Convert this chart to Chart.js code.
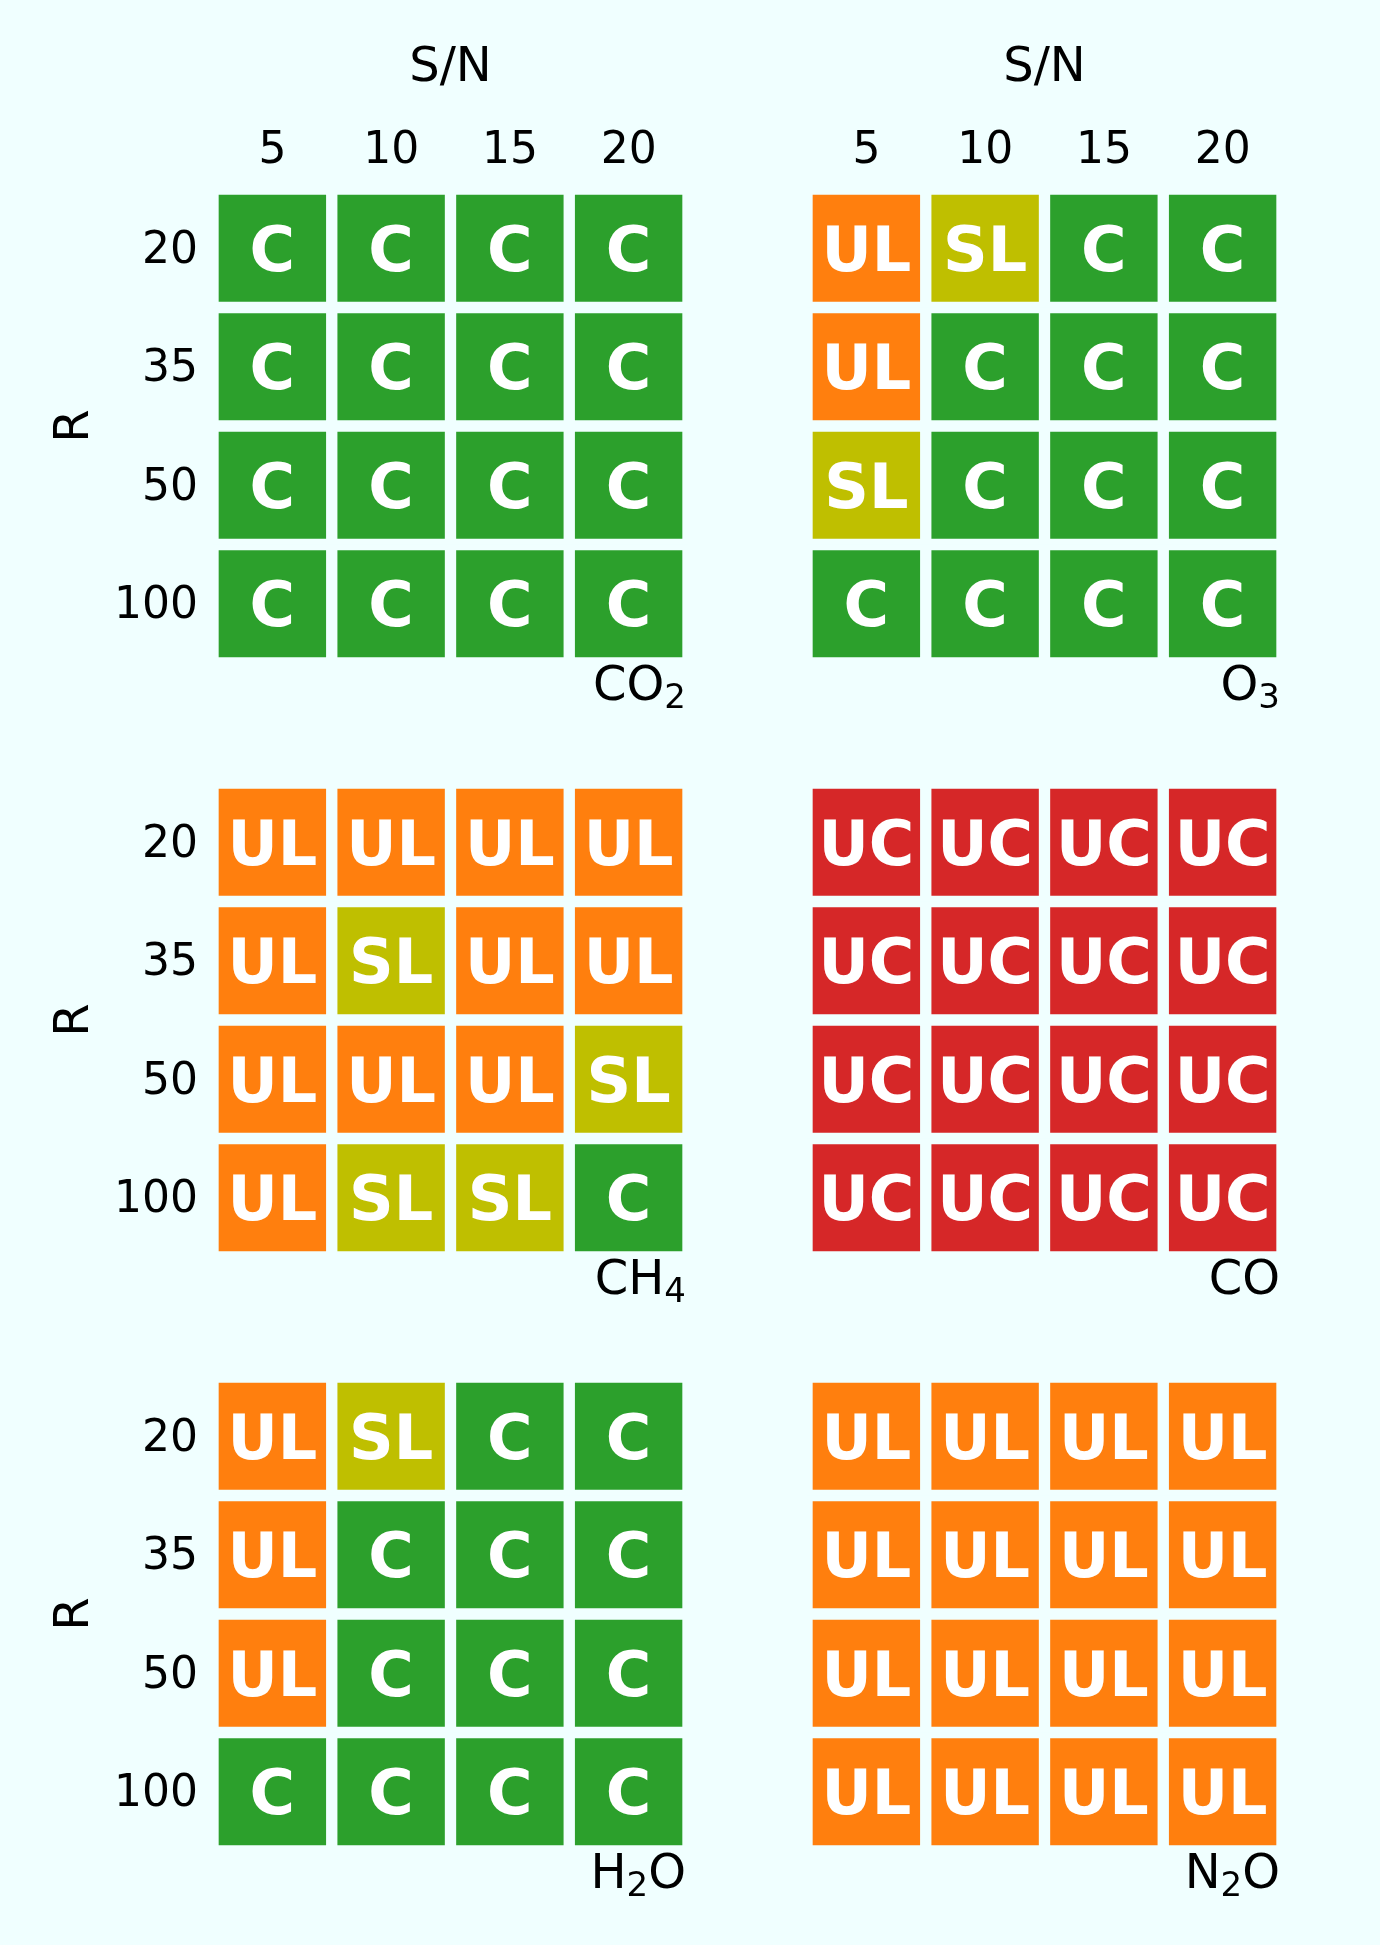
<!DOCTYPE html>
<html>
<head>
<meta charset="utf-8">
<script src="https://cdn.jsdelivr.net/npm/chart.js@4.4.1/dist/chart.umd.min.js"></script>
<style>
  html, body { margin: 0; padding: 0; background: #f0ffff; }
  #fig { position: relative; width: 1380px; height: 1945px; background: #f0ffff; overflow: hidden; }
  #fig canvas { position: absolute; }
</style>
</head>
<body>
<div id="fig"></div>
<script>
// axes
const snLabels = ['5', '10', '15', '20'];
const rLabels = ['20', '35', '50', '100'];
const rowSpan = [1, 1, 1, 1];   // every cell is one unit tall

// panel names, left to right, top to bottom
const gasNames = ['CO₂', 'O₃', 'CH₄', 'CO', 'H₂O', 'N₂O'];

// status per panel: rows are R = 20, 35, 50, 100; columns are S/N = 5, 10, 15, 20
const co2Status = [
    ['C', 'C', 'C', 'C'],
    ['C', 'C', 'C', 'C'],
    ['C', 'C', 'C', 'C'],
    ['C', 'C', 'C', 'C']
];
const o3Status = [
    ['UL', 'SL', 'C', 'C'],
    ['UL', 'C', 'C', 'C'],
    ['SL', 'C', 'C', 'C'],
    ['C', 'C', 'C', 'C']
];
const ch4Status = [
    ['UL', 'UL', 'UL', 'UL'],
    ['UL', 'SL', 'UL', 'UL'],
    ['UL', 'UL', 'UL', 'SL'],
    ['UL', 'SL', 'SL', 'C']
];
const coStatus = [
    ['UC', 'UC', 'UC', 'UC'],
    ['UC', 'UC', 'UC', 'UC'],
    ['UC', 'UC', 'UC', 'UC'],
    ['UC', 'UC', 'UC', 'UC']
];
const h2oStatus = [
    ['UL', 'SL', 'C', 'C'],
    ['UL', 'C', 'C', 'C'],
    ['UL', 'C', 'C', 'C'],
    ['C', 'C', 'C', 'C']
];
const n2oStatus = [
    ['UL', 'UL', 'UL', 'UL'],
    ['UL', 'UL', 'UL', 'UL'],
    ['UL', 'UL', 'UL', 'UL'],
    ['UL', 'UL', 'UL', 'UL']
];
const panelStatus = [co2Status, o3Status, ch4Status, coStatus, h2oStatus, n2oStatus];

const statusColors = { C: '#2ca02c', SL: '#bfbf00', UL: '#ff7f0e', UC: '#d62728' };
const BG = '#f0ffff';
const FONT = "'DejaVu Sans', sans-serif";

// layout (px)
const colLeft = [0, 807];
const rowTop = [0, 783, 1377];
const yAxisW = 213, xAxisH = 189, areaW = 475, areaH = 474, nameH = 48;

// white status text in each cell
const cellText = {
    id: 'cellText',
    afterDatasetsDraw(chart) {
        const ctx = chart.ctx;
        const size = 62;
        ctx.save();
        ctx.font = `bold ${size}px ${FONT}`;
        ctx.fillStyle = '#ffffff';
        ctx.textAlign = 'center';
        ctx.textBaseline = 'alphabetic';
        chart.data.datasets.forEach((ds, i) => {
            chart.getDatasetMeta(i).data.forEach((bar, j) => {
                const mid = (bar.y + bar.base) / 2;
                ctx.fillText(ds.status[j], bar.x, mid + size * 0.729 / 2);
            });
        });
        ctx.restore();
    }
};

// gas name under the lower right corner, subscript digits drawn smaller and lower
const subDigits = { '₀': '0', '₁': '1', '₂': '2', '₃': '3', '₄': '4' };
const gasName = {
    id: 'gasName',
    afterDraw(chart, args, opts) {
        const ctx = chart.ctx;
        const parts = [];
        for (const ch of opts.text) {
            const sub = ch in subDigits;
            const t = sub ? subDigits[ch] : ch;
            const last = parts[parts.length - 1];
            if (last && last.sub === sub) last.t += t; else parts.push({ t, sub });
        }
        const fontOf = p => p.sub ? `34px ${FONT}` : `48px ${FONT}`;
        ctx.save();
        ctx.fillStyle = '#000';
        ctx.textBaseline = 'alphabetic';
        ctx.textAlign = 'left';
        let w = 0;
        parts.forEach(p => { ctx.font = fontOf(p); p.w = ctx.measureText(p.t).width; w += p.w; });
        let x = chart.chartArea.right - 2 - w;
        const base = chart.chartArea.bottom + 37;
        parts.forEach(p => {
            ctx.font = fontOf(p);
            ctx.fillText(p.t, x, base + (p.sub ? 8 : 0));
            x += p.w;
        });
        ctx.restore();
    }
};

function makePanel(idx) {
    const row = Math.floor(idx / 2), col = idx % 2;
    const showX = row === 0, showY = col === 0;
    const status = panelStatus[idx];

    const canvas = document.createElement('canvas');
    canvas.width = (showY ? yAxisW : 0) + areaW;
    canvas.height = (showX ? xAxisH : 0) + areaH + nameH;
    canvas.style.left = colLeft[col] + 'px';
    canvas.style.top = rowTop[row] + 'px';
    document.getElementById('fig').appendChild(canvas);

    new Chart(canvas, {
        type: 'bar',
        data: {
            labels: snLabels,
            datasets: rLabels.map((r, i) => ({
                label: r,
                data: rowSpan,
                status: status[i],
                backgroundColor: status[i].map(s => statusColors[s]),
                borderColor: BG,
                borderWidth: 6,
                borderSkipped: false,
                categoryPercentage: 1,
                barPercentage: 1
            }))
        },
        options: {
            responsive: false,
            animation: false,
            events: [],
            devicePixelRatio: 1,
            layout: { padding: { left: 0, right: 0, top: 0, bottom: nameH } },
            plugins: {
                legend: { display: false },
                tooltip: { enabled: false },
                title: { display: false },
                gasName: { text: gasNames[idx] }
            },
            scales: {
                x: {
                    display: showX,
                    position: 'top',
                    stacked: true,
                    grid: { display: false, drawTicks: false },
                    border: { display: false },
                    ticks: {
                        color: '#000',
                        font: { family: FONT, size: 44, lineHeight: 1 },
                        padding: 15,
                        maxRotation: 0,
                        autoSkip: false
                    },
                    title: {
                        display: true,
                        text: 'S/N',
                        color: '#000',
                        font: { family: FONT, size: 48, lineHeight: 1 },
                        padding: { top: 45, bottom: 0 }
                    },
                    afterFit: s => {
                        if (showX) s.height = xAxisH;
                        s.paddingLeft = 0; s.paddingRight = 0;
                    }
                },
                y: {
                    display: showY,
                    stacked: true,
                    reverse: true,
                    min: 0,
                    max: 4,
                    grid: { display: false, drawTicks: false },
                    border: { display: false },
                    afterBuildTicks: s => { s.ticks = rLabels.map((_, i) => ({ value: i + 0.5 })); },
                    ticks: {
                        color: '#000',
                        font: { family: FONT, size: 44, lineHeight: 1 },
                        padding: 15,
                        labelOffset: 3,
                        autoSkip: false,
                        callback: (v, i) => rLabels[i]
                    },
                    title: {
                        display: true,
                        text: 'R',
                        color: '#000',
                        font: { family: FONT, size: 48, lineHeight: 1 },
                        padding: { top: 52, bottom: 0 }
                    },
                    afterFit: s => {
                        if (showY) s.width = yAxisW;
                        s.paddingTop = 0; s.paddingBottom = 0;
                    }
                }
            }
        },
        plugins: [cellText, gasName]
    });
}

for (let i = 0; i < 6; i++) makePanel(i);
</script>
</body>
</html>
